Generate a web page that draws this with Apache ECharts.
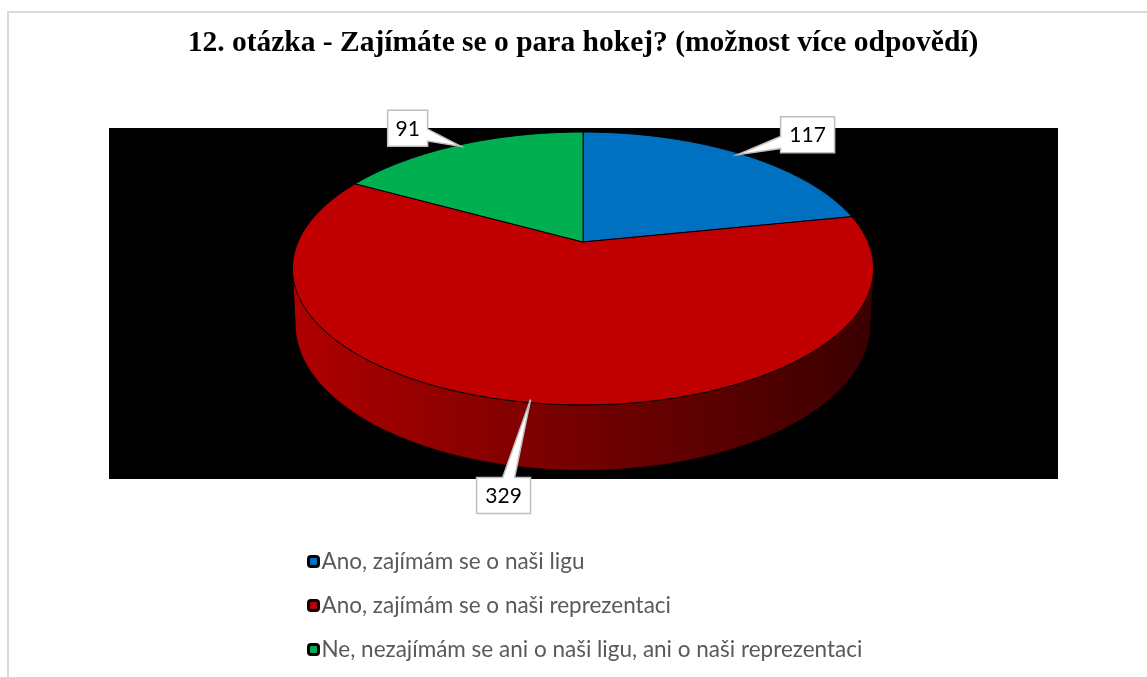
<!DOCTYPE html>
<html lang="cs">
<head>
<meta charset="utf-8">
<title>12. otázka - para hokej</title>
<script src="https://cdn.jsdelivr.net/npm/echarts@6/dist/echarts.min.js"></script>
<style>
  html, body { margin: 0; padding: 0; background: #fff; }
  #main { width: 1147px; height: 677px; }
</style>
</head>
<body>
<div id="main"></div>
<script>
var categories = [
    'Ano, zajímám se o naši ligu',
    'Ano, zajímám se o naši reprezentaci',
    'Ne, nezajímám se ani o naši ligu, ani o naši reprezentaci'
];
var values = [117, 329, 91];
var colors = ['#0070c0', '#c00000', '#00b050'];
var titleText = '12. otázka - Zajímáte se o para hokej? (možnost více odpovědí)';

// tilted pie look (Excel 3D pie)
var cx = 583, cy = 242, kx = 285, ky = 131.3, persp = 0.194, depth = 54;
// label box centre, relative to slice rim point
var labelShift = [[70, -20], [-27, 96], [-53, -18]];

var total = values.reduce(function (a, b) { return a + b; }, 0);
var starts = [];
var acc = 0;
values.forEach(function (v) { starts.push(acc); acc += v; });

function rim(phi, r, bottom) {
    var u = Math.sin(phi) * r, v = Math.cos(phi) * r;
    var d = 1 + persp * v;
    var s = bottom ? 0.99 : 1;
    return [cx + kx * s * u / d, cy - ky * s * v / d + (bottom ? depth / d : 0)];
}

function arcPoints(a0, a1, bottom) {
    var pts = [];
    var n = Math.max(2, Math.ceil(Math.abs(a1 - a0) / 0.01));
    for (var k = 0; k <= n; k++) {
        pts.push(rim(a0 + (a1 - a0) * k / n, 1, bottom));
    }
    return pts;
}

function callout(bx, by, w, h, tx, ty) {
    var x0 = bx - w / 2, x1 = bx + w / 2, y0 = by - h / 2, y1 = by + h / 2;
    var dx = tx - bx, dy = ty - by, half = 6, e;
    if (Math.abs(dx) * h > Math.abs(dy) * w) {
        var ex = dx > 0 ? x1 : x0;
        e = by + dy * (ex - bx) / dx;
        e = Math.min(Math.max(e, y0 + half), y1 - half);
        if (dx > 0) return [[x0, y0], [x1, y0], [x1, e - half], [tx, ty], [x1, e + half], [x1, y1], [x0, y1]];
        return [[x0, y0], [x1, y0], [x1, y1], [x0, y1], [x0, e + half], [tx, ty], [x0, e - half]];
    }
    var ey = dy > 0 ? y1 : y0;
    e = bx + dx * (ey - by) / dy;
    e = Math.min(Math.max(e, x0 + half), x1 - half);
    if (dy > 0) return [[x0, y0], [x1, y0], [x1, y1], [e + half, y1], [tx, ty], [e - half, y1], [x0, y1]];
    return [[x0, y0], [e - half, y0], [tx, ty], [e + half, y0], [x1, y0], [x1, y1], [x0, y1]];
}

var wallFrom = Math.acos(-persp), wallTo = 2 * Math.PI - wallFrom;

function renderSlice(params, api) {
    var i = params.seriesIndex;
    var val = api.value(0);
    var a0 = starts[i] / total * 2 * Math.PI;
    var a1 = (starts[i] + val) / total * 2 * Math.PI;
    var children = [];

    // front wall
    var s = Math.max(a0, wallFrom), e = Math.min(a1, wallTo);
    if (e > s) {
        var wall = arcPoints(s, e, false).concat(arcPoints(e, s, true));
        children.push({
            type: 'polygon', z2: 1,
            shape: { points: wall },
            style: {
                fill: new echarts.graphic.LinearGradient(0, 0, 1, 0, [
                    { offset: 0, color: '#b00000' },
                    { offset: 0.45, color: '#7a0000' },
                    { offset: 1, color: '#3a0000' }
                ]),
                stroke: 'rgba(0,0,0,0.6)', lineWidth: 0.8
            }
        });
    }

    // top face
    var top = [[cx, cy]].concat(arcPoints(a0, a1, false));
    children.push({
        type: 'polygon', z2: 10,
        shape: { points: top },
        style: { fill: colors[i], stroke: '#000', lineWidth: 1 }
    });

    // callout label
    var mid = (a0 + a1) / 2;
    var tip = rim(mid, 0.985, false);
    var bx = tip[0] + labelShift[i][0], by = tip[1] + labelShift[i][1];
    var txt = String(val);
    var w = 12 + 14 * txt.length, h = 36;
    children.push({
        type: 'polygon', z2: 30,
        shape: { points: callout(bx, by, w, h, tip[0], tip[1]) },
        style: { fill: '#fff', stroke: '#bfbfbf', lineWidth: 1.5 }
    });
    children.push({
        type: 'text', z2: 31,
        style: {
            text: txt, x: bx, y: by + 1, align: 'center', verticalAlign: 'middle',
            font: '21px Lato', fill: '#000'
        }
    });
    return { type: 'group', children: children };
}

var chart = echarts.init(document.getElementById('main'));
chart.setOption({
    animation: false,
    backgroundColor: '#fff',
    graphic: [
        { type: 'rect', shape: { x: 8, y: 12, width: 1170, height: 700 }, style: { fill: 'none', stroke: '#d9d9d9', lineWidth: 2 } },
        { type: 'rect', shape: { x: 109, y: 128, width: 949, height: 351 }, style: { fill: '#000' } },
        { type: 'text', x: 583, y: 43, style: { text: titleText, align: 'center', verticalAlign: 'middle', font: 'bold 29.5px "Liberation Serif"', fill: '#000' } }
    ],
    legend: {
        orient: 'vertical',
        left: 302,
        top: 545,
        itemWidth: 10,
        itemHeight: 10,
        itemGap: 21,
        icon: 'roundRect',
        selectedMode: false,
        itemStyle: { borderColor: '#000', borderWidth: 3 },
        textStyle: { fontFamily: 'Lato', fontSize: 22.5, color: '#595959', padding: [0, 0, 0, -2] },
        data: categories
    },
    series: categories.map(function (name, i) {
        return {
            type: 'custom',
            name: name,
            coordinateSystem: 'none',
            silent: true,
            itemStyle: { color: colors[i] },
            data: [[values[i]]],
            renderItem: renderSlice
        };
    })
});
</script>
</body>
</html>
